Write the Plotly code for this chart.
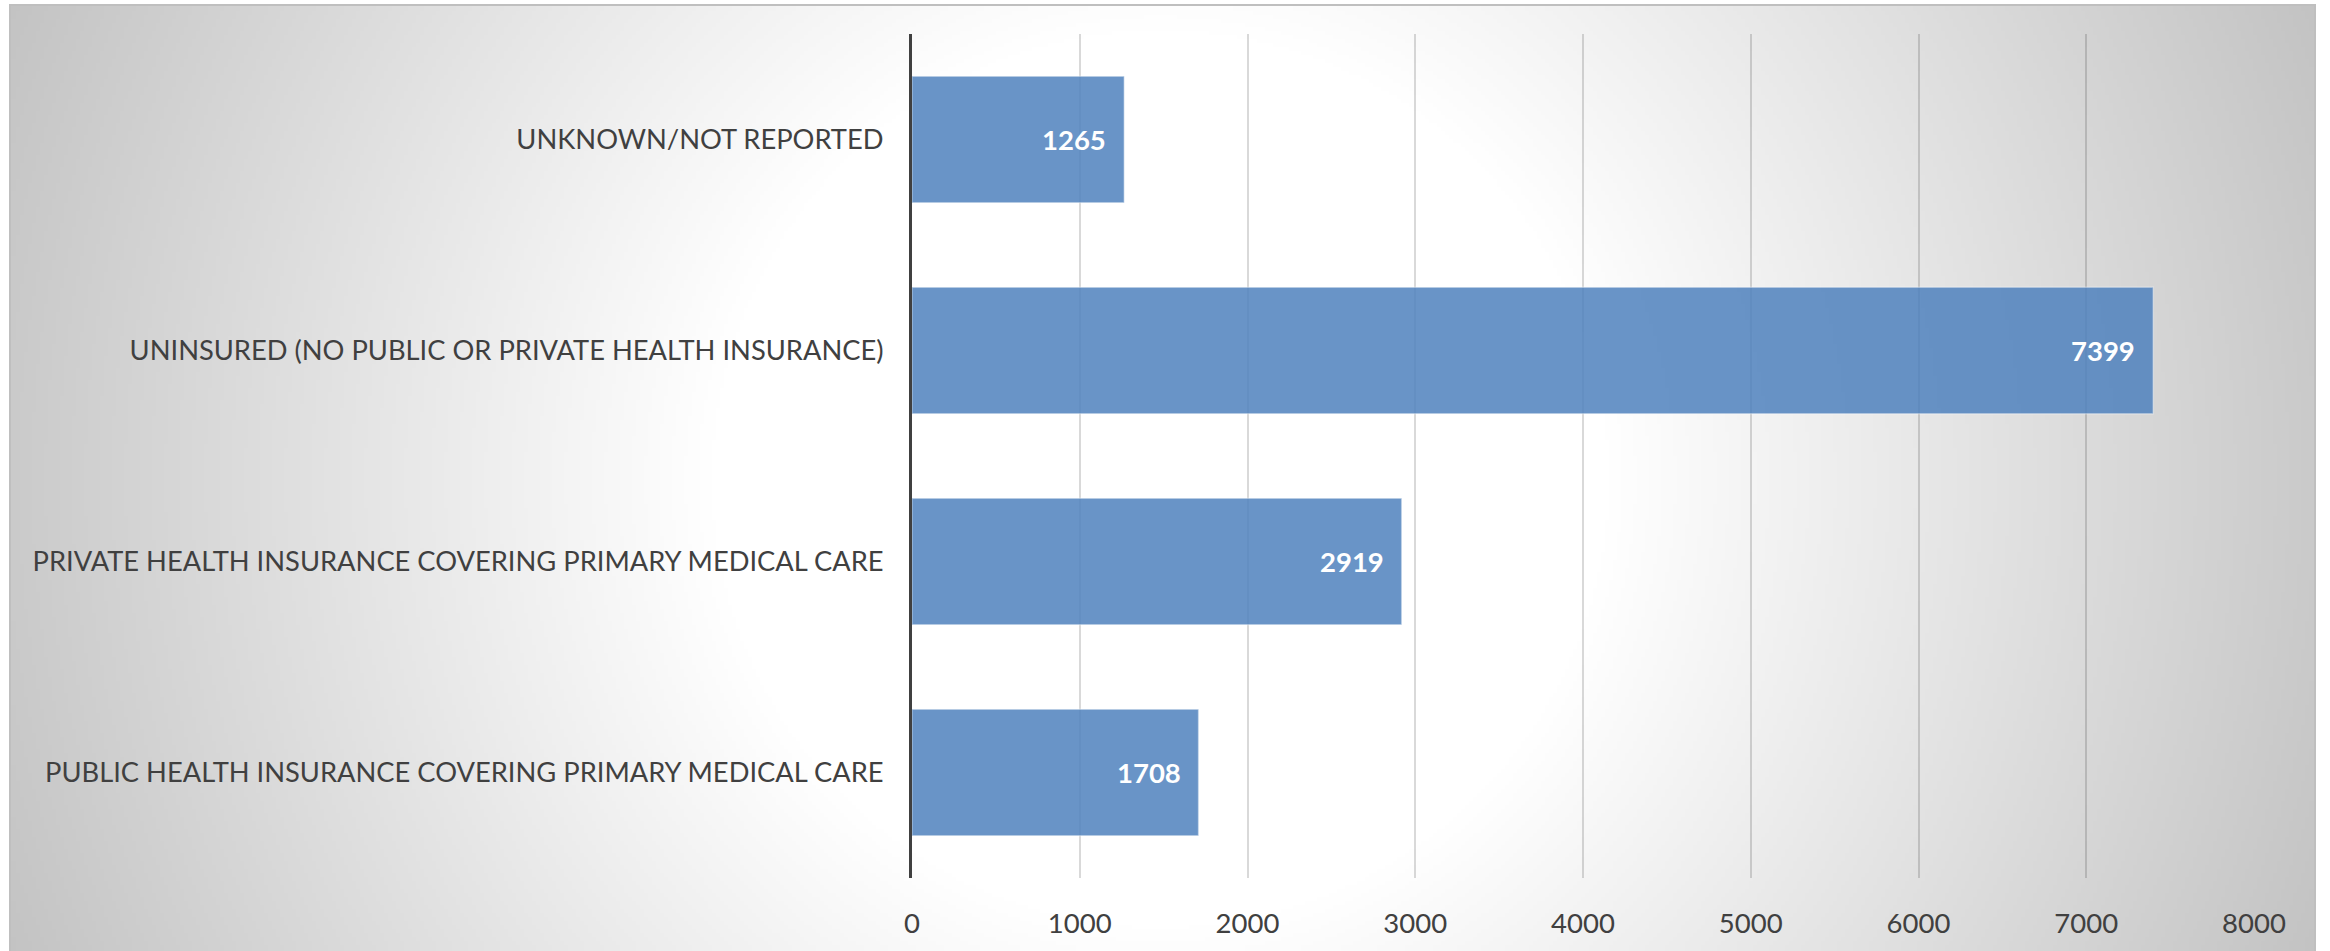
import base64
import struct
import zlib

import numpy as np
import plotly.graph_objects as go

# ---------------- data ----------------
categories = [
    "PUBLIC HEALTH INSURANCE COVERING PRIMARY MEDICAL CARE",
    "PRIVATE HEALTH INSURANCE COVERING PRIMARY MEDICAL CARE",
    "UNINSURED (NO PUBLIC OR PRIVATE HEALTH INSURANCE)",
    "UNKNOWN/NOT REPORTED",
]
values = [1708, 2919, 7399, 1265]
x_ticks = [0, 1000, 2000, 3000, 4000, 5000, 6000, 7000, 8000]

# ---------------- geometry ----------------
W, H = 2330, 951
L, R, T, B = 912, 76, 34, 73
PW, PH = W - L - R, H - T - B

BOX_X0, BOX_Y0, BOX_X1, BOX_Y1 = 10, 5, 2315, 951


def px_to_paper_x(px):
    return (px - L) / PW


def py_to_paper_y(py):
    return (H - B - py) / PH


# ---------------- radial gradient background (decoration) ----------------
step = 4
gw = (BOX_X1 - BOX_X0) // step
gh = (BOX_Y1 - BOX_Y0) // step
xs = BOX_X0 + (np.arange(gw) + 0.5) * step
ys = BOX_Y0 + (np.arange(gh) + 0.5) * step
XX, YY = np.meshgrid(xs, ys)
cx, cy = 1160.0, 478.0
d = np.sqrt((XX - cx) ** 2 + (YY - cy) ** 2)
r0, r1 = 450.0, 1290.0
t = np.clip((d - r0) / (r1 - r0), 0, 1)
g = (255 - t * (255 - 192)).astype(np.uint8)


def png_gray(arr):
    h, w = arr.shape
    raw = b"".join(b"\x00" + arr[i].tobytes() for i in range(h))

    def chunk(tag, data):
        c = struct.pack(">I", len(data)) + tag + data
        return c + struct.pack(">I", zlib.crc32(tag + data) & 0xFFFFFFFF)

    ihdr = struct.pack(">IIBBBBB", w, h, 8, 0, 0, 0, 0)
    return (b"\x89PNG\r\n\x1a\n" + chunk(b"IHDR", ihdr)
            + chunk(b"IDAT", zlib.compress(raw, 9)) + chunk(b"IEND", b""))


bg_uri = "data:image/png;base64," + base64.b64encode(png_gray(g)).decode()

FONT = "Lato, 'Open Sans', sans-serif"
TXT = "#404040"

fig = go.Figure()
fig.add_trace(go.Bar(
    x=values,
    y=categories,
    orientation="h",
    marker=dict(color="rgba(79,129,189,0.85)",
                line=dict(color="rgba(255,255,255,0.35)", width=1.5)),
    hoverinfo="x+y",
))

for v, c in zip(values, categories):
    fig.add_annotation(x=v, y=c, xref="x", yref="y", text=f"<b>{v}</b>",
                       showarrow=False, xanchor="right", yanchor="middle",
                       xshift=-16, font=dict(family=FONT, size=27.5, color="white"))

fig.add_layout_image(dict(
    source=bg_uri, xref="paper", yref="paper",
    x=px_to_paper_x(BOX_X0), y=py_to_paper_y(BOX_Y0),
    sizex=(BOX_X1 - BOX_X0) / PW, sizey=(BOX_Y1 - BOX_Y0) / PH,
    xanchor="left", yanchor="top", sizing="stretch", layer="below",
))

fig.add_shape(type="rect", xref="paper", yref="paper",
              x0=px_to_paper_x(BOX_X0), x1=px_to_paper_x(BOX_X1),
              y0=py_to_paper_y(BOX_Y1 + 10), y1=py_to_paper_y(BOX_Y0),
              line=dict(color="#bfbfbf", width=2), fillcolor="rgba(0,0,0,0)",
              layer="above")

fig.update_layout(
    width=W, height=H,
    margin=dict(l=L, r=R, t=T, b=B, autoexpand=False),
    paper_bgcolor="white",
    plot_bgcolor="rgba(0,0,0,0)",
    showlegend=False,
    bargap=0.4,
    font=dict(family=FONT, color=TXT),
    xaxis=dict(
        range=[0, 8000], tickvals=x_ticks, ticktext=[str(v) for v in x_ticks],
        showgrid=True, gridcolor="rgba(0,0,0,0.15)", gridwidth=1.5,
        zeroline=False, showline=False,
        ticks="outside", ticklen=21, tickcolor="rgba(0,0,0,0)",
        tickfont=dict(family=FONT, size=27.5, color=TXT),
        fixedrange=True,
    ),
    yaxis=dict(
        categoryorder="array", categoryarray=categories,
        showgrid=False, zeroline=False,
        showline=True, linecolor="#404040", linewidth=3,
        ticks="outside", ticklen=20, tickcolor="rgba(0,0,0,0)",
        tickfont=dict(family=FONT, size=27.3, color=TXT),
        fixedrange=True,
    ),
)

fig.write_html(
    "out.html",
    config={"displayModeBar": False},
    post_script="document.body.style.margin='0';document.body.style.overflow='hidden';",
)
